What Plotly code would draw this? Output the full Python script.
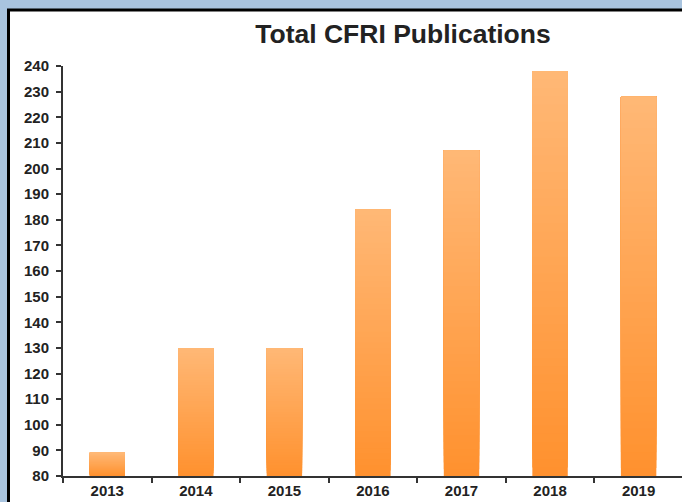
import plotly.graph_objects as go

years = ["2013", "2014", "2015", "2016", "2017", "2018", "2019"]
publications = [89, 130, 130, 184, 207, 238, 228]
y_ticks = list(range(80, 241, 10))

Y_MIN = 80
TOP_COLOR = (255, 184, 118)
BOTTOM_COLOR = (255, 145, 46)
N_SEG = 48

W, H = 682, 502
ML, MR, MT, MB = 63, 0, 66, 26
PW = W - ML - MR
PH = H - MT - MB


def px_x(px):
    return (px - ML) / PW


def px_y(py):
    return (H - MB - py) / PH


fig = go.Figure()

# vertical gradient: each layer spans from its start up to the bar's top,
# later (lighter) layers are drawn over earlier ones
for k in range(N_SEG):
    t = (k + 0.5) / N_SEG  # 0 bottom -> 1 top
    c = tuple(round(b + (tp - b) * t) for b, tp in zip(BOTTOM_COLOR, TOP_COLOR))
    bases = [Y_MIN + (v - Y_MIN) * k / N_SEG for v in publications]
    heights = [v - b for v, b in zip(publications, bases)]
    fig.add_trace(go.Bar(
        x=years, y=heights, base=bases, width=0.4,
        marker=dict(color="rgb(%d,%d,%d)" % c, line=dict(width=0)),
        showlegend=False, hoverinfo="skip",
    ))

fig.update_layout(
    width=W, height=H,
    margin=dict(l=ML, r=MR, t=MT, b=MB, pad=0),
    paper_bgcolor="#a9c4df",
    plot_bgcolor="rgba(0,0,0,0)",
    barmode="overlay",
    bargap=0.6,
    font=dict(family="Liberation Sans, Arial, sans-serif", color="#222222"),
    title=dict(
        text="<b>Total CFRI Publications</b>",
        x=403 / W, xanchor="center", xref="container",
        y=1 - 34 / H, yanchor="middle", yref="container",
        font=dict(size=26.5, color="#222222"),
    ),
    shapes=[
        dict(type="rect", xref="paper", yref="paper",
             x0=px_x(8.5), x1=px_x(W + 20), y0=px_y(10), y1=px_y(H + 20),
             fillcolor="white", line=dict(color="black", width=3), layer="below"),
    ],
)

tick_font = dict(size=15, color="#222222", family="Liberation Sans, Arial, sans-serif", weight="bold")

fig.update_xaxes(
    type="category",
    range=[-0.5, 6.49],
    showline=True, linecolor="#333333", linewidth=2,
    ticks="outside", tickson="boundaries", ticklen=5, tickwidth=2, tickcolor="#333333",
    showgrid=False, zeroline=False,
    tickfont=tick_font,
)
fig.update_yaxes(
    range=[80, 240],
    tickvals=y_ticks, ticktext=[str(v) for v in y_ticks],
    showline=True, linecolor="#333333", linewidth=2,
    ticks="outside", ticklen=5, tickwidth=2, tickcolor="#333333",
    ticklabelstandoff=4,
    showgrid=False, zeroline=False,
    tickfont=tick_font,
)

fig.write_html(
    "out.html",
    config={"displayModeBar": False},
    post_script="document.body.style.margin='0';document.body.style.overflow='hidden';",
)
